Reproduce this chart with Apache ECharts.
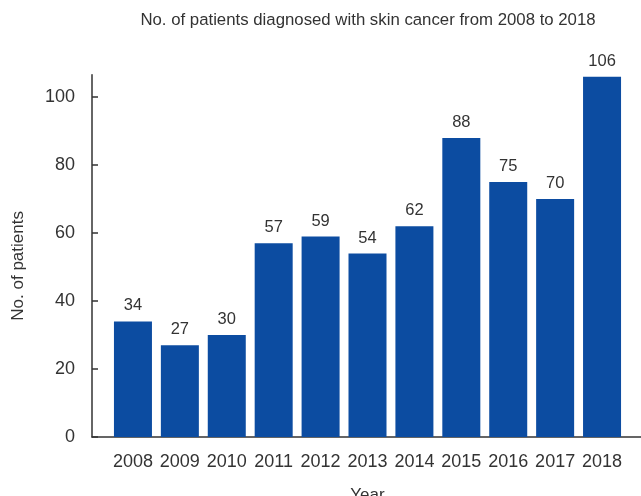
<!DOCTYPE html>
<html><head><meta charset="utf-8">
<script src="https://cdn.jsdelivr.net/npm/echarts@6/dist/echarts.min.js"></script>
<style>html,body{margin:0;padding:0;background:#fff}#c{width:641px;height:496px}</style>
</head><body><div id="c"></div>
<script>
const years = ['2008','2009','2010','2011','2012','2013','2014','2015','2016','2017','2018'];
const patients = [34, 27, 30, 57, 59, 54, 62, 88, 75, 70, 106];
const yTicks = [0, 20, 40, 60, 80, 100];
const titleText = 'No. of patients diagnosed with skin cancer from 2008 to 2018';
const xName = 'Year';
const yName = 'No. of patients';

const FONT = '"Liberation Sans", Arial, sans-serif';
const TXT = '#333';
const chart = echarts.init(document.getElementById('c'), null, {renderer: 'canvas'});
chart.setOption({
  animation: false,
  backgroundColor: '#fff',
  textStyle: {fontFamily: FONT, color: TXT},
  title: {
    text: titleText, left: 368, top: 12, textAlign: 'center', padding: 0,
    textStyle: {fontFamily: FONT, fontSize: 16.8, fontWeight: 'normal', color: TXT}
  },
  grid: [
    {left: 109.5, right: 15.5, top: 74.7, bottom: 59, containLabel: false, outerBoundsMode: 'none'},
    {left: 92, right: 0, top: 74.7, bottom: 59, containLabel: false, outerBoundsMode: 'none'}
  ],
  xAxis: [
    {
      type: 'category', gridIndex: 0, data: years, boundaryGap: true,
      axisLine: {show: false}, axisTick: {show: false},
      axisLabel: {fontFamily: FONT, fontSize: 18, color: TXT, margin: 16, interval: 0},
      name: xName, nameLocation: 'middle', nameGap: 50,
      nameTextStyle: {fontFamily: FONT, fontSize: 17, color: TXT}
    },
    {
      type: 'value', gridIndex: 1, min: 0, max: 1,
      axisLine: {show: true, lineStyle: {color: '#333', width: 1.5}},
      axisTick: {show: false}, axisLabel: {show: false}, splitLine: {show: false}
    }
  ],
  yAxis: [
    {
      type: 'value', gridIndex: 0, min: 0, max: 106.6, offset: 17.5,
      axisLine: {show: true, lineStyle: {color: '#333', width: 1.5}},
      axisTick: {show: true, inside: true, length: 6, customValues: yTicks, lineStyle: {color: '#333', width: 1.5}},
      axisLabel: {fontFamily: FONT, fontSize: 18, color: TXT, margin: 17, customValues: yTicks},
      splitLine: {show: false},
      name: yName, nameLocation: 'middle', nameGap: 65, nameRotate: 90,
      nameTextStyle: {fontFamily: FONT, fontSize: 17, color: TXT, padding: [0, 20, 0, 0]}
    },
    {type: 'value', gridIndex: 1, show: false, min: 0, max: 1}
  ],
  series: [{
    type: 'bar', xAxisIndex: 0, yAxisIndex: 0, data: patients, barWidth: 38,
    itemStyle: {color: '#0c4ca1'},
    label: {show: true, position: 'top', distance: 7, fontFamily: FONT, fontSize: 16.5, color: TXT}
  }]
});
</script></body></html>
